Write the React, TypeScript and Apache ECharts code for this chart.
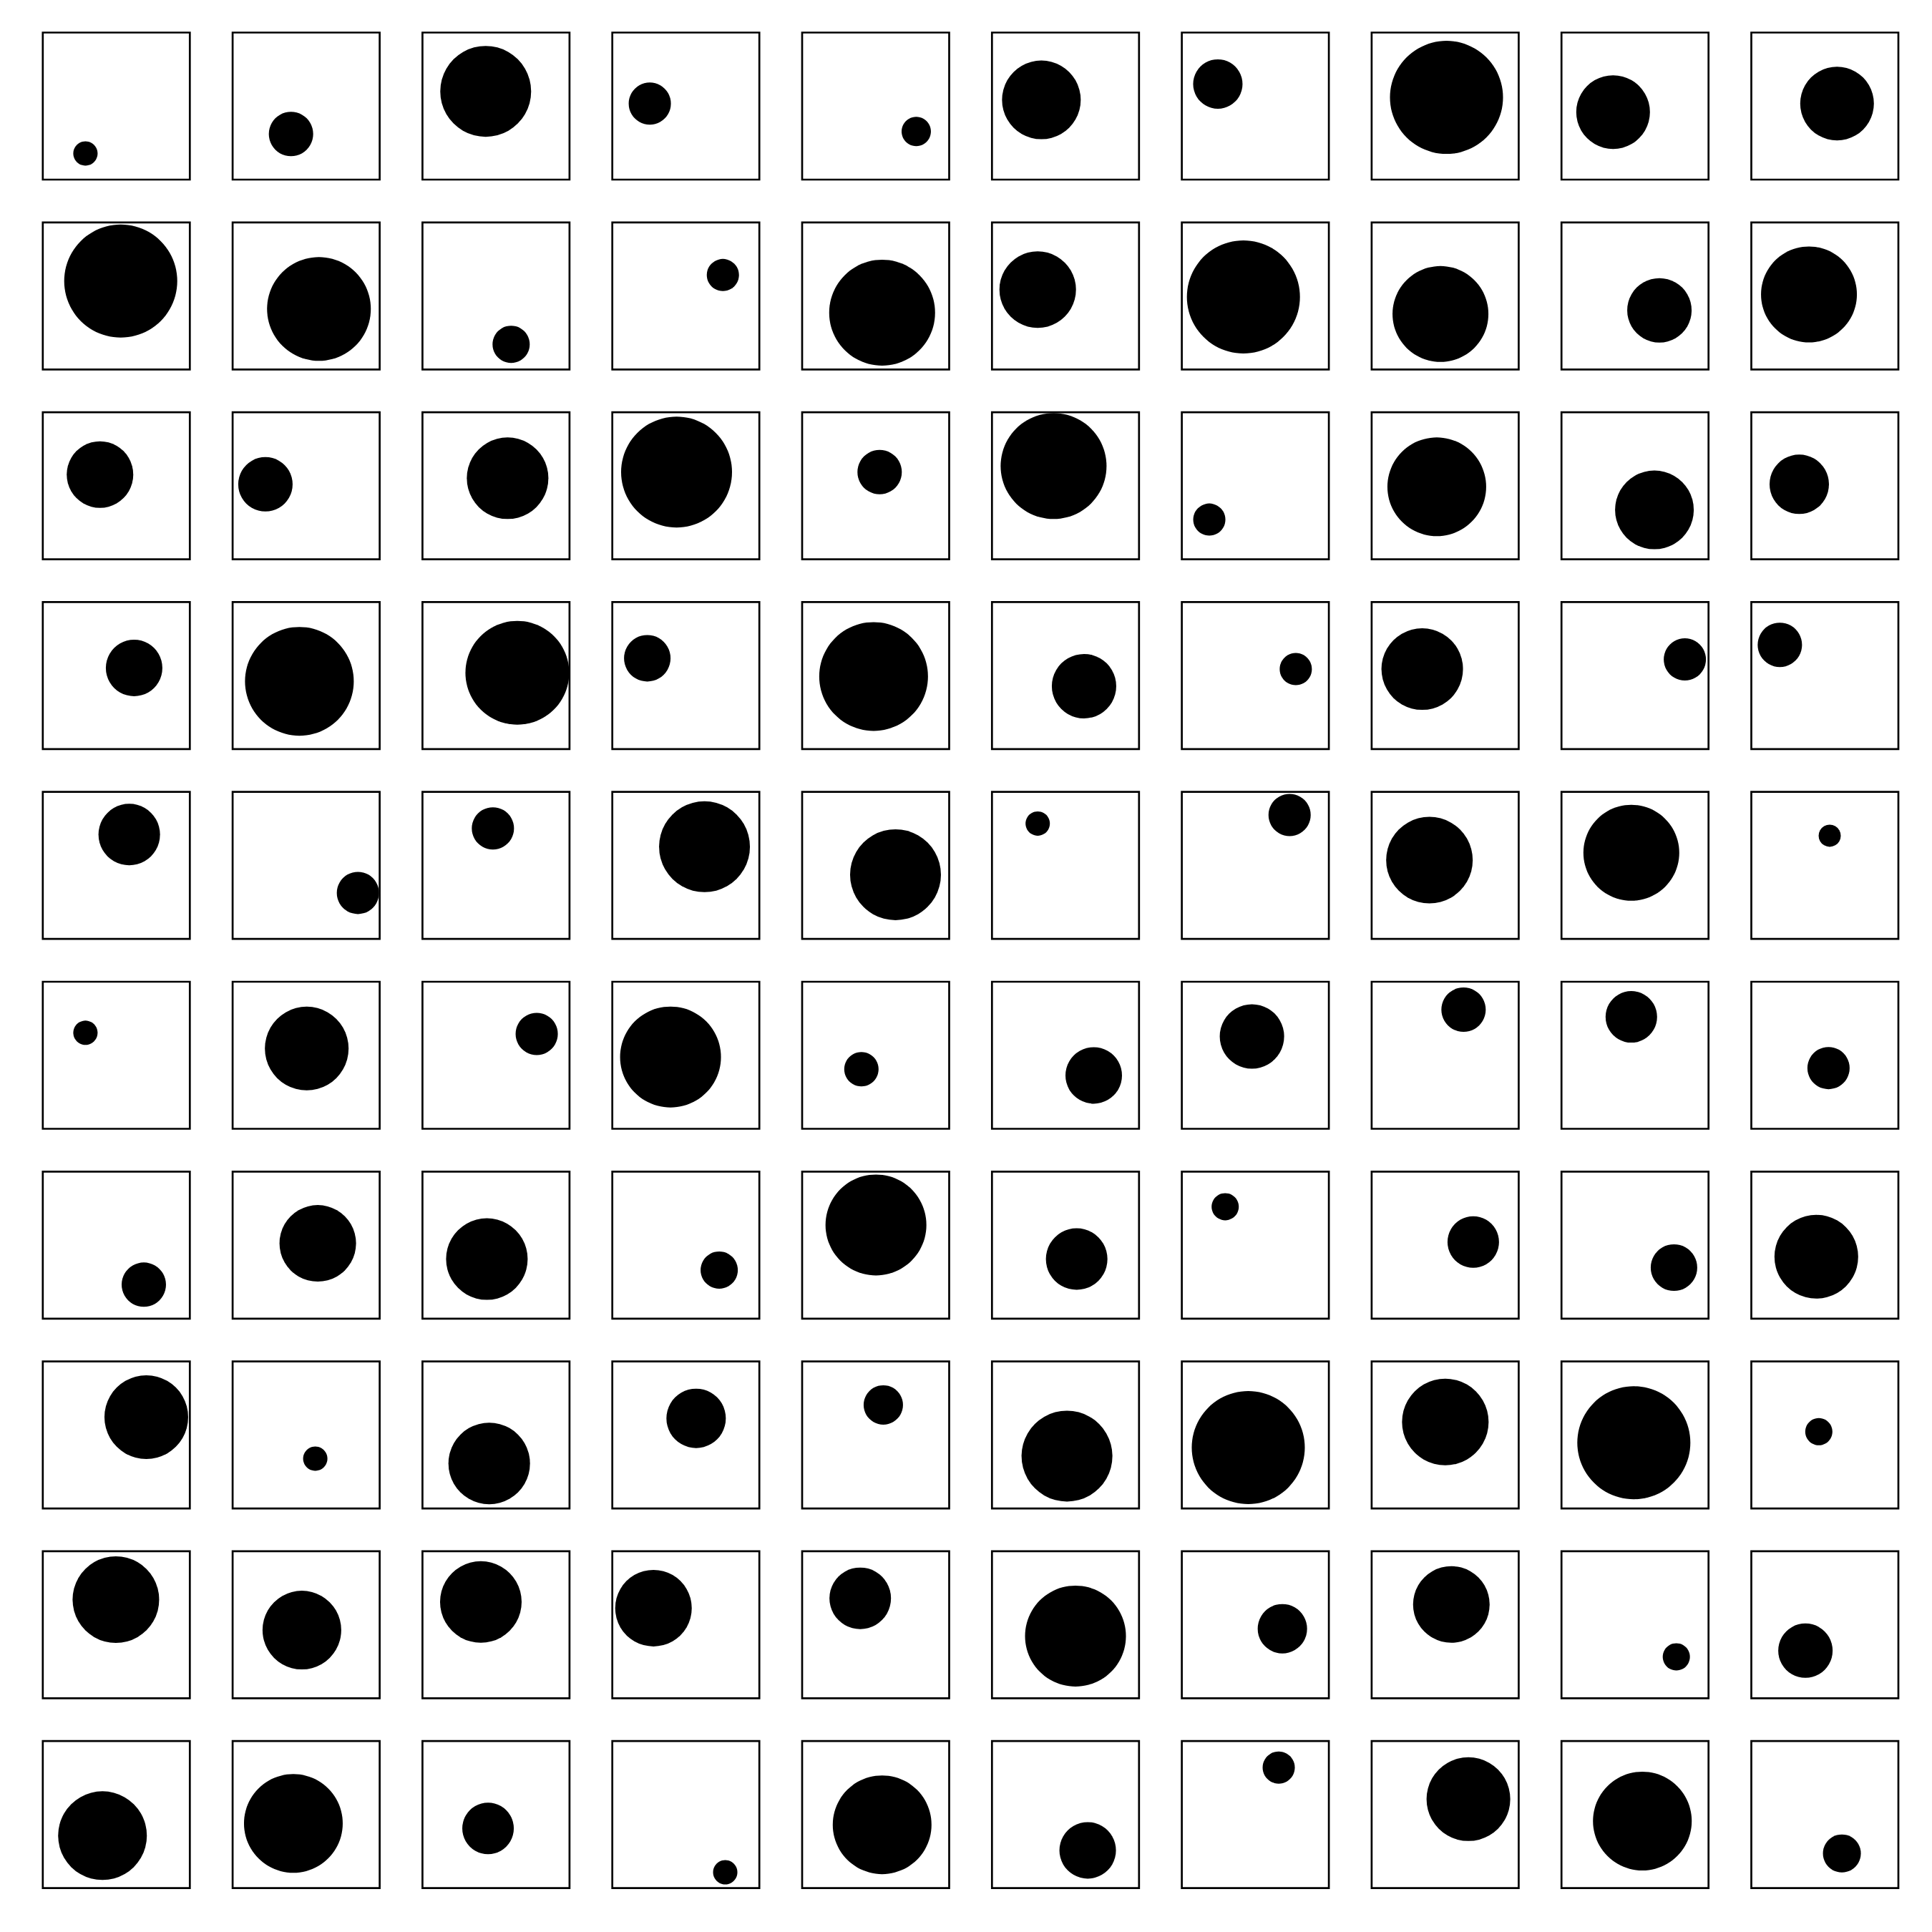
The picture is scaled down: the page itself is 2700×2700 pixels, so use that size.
import React, { useEffect, useRef } from "react";
import * as echarts from "echarts";

// Position of each dot inside its panel (0..1, x from left, y from bottom), row by row
const xValues: number[] = [
  0.29, 0.397, 0.43, 0.255, 0.776, 0.336, 0.245, 0.509, 0.351, 0.583,
  0.53, 0.587, 0.603, 0.752, 0.544, 0.311, 0.419, 0.468, 0.666, 0.392,
  0.389, 0.223, 0.579, 0.437, 0.527, 0.419, 0.187, 0.443, 0.632, 0.326,
  0.621, 0.454, 0.645, 0.238, 0.486, 0.626, 0.775, 0.344, 0.839, 0.194,
  0.588, 0.852, 0.479, 0.627, 0.635, 0.311, 0.733, 0.393, 0.475, 0.533,
  0.29, 0.504, 0.777, 0.396, 0.403, 0.692, 0.477, 0.625, 0.475, 0.525,
  0.687, 0.579, 0.438, 0.727, 0.502, 0.576, 0.295, 0.691, 0.765, 0.442,
  0.704, 0.562, 0.454, 0.57, 0.552, 0.51, 0.452, 0.501, 0.492, 0.459,
  0.497, 0.471, 0.397, 0.28, 0.395, 0.568, 0.684, 0.542, 0.781, 0.368,
  0.406, 0.413, 0.446, 0.768, 0.544, 0.651, 0.659, 0.658, 0.55, 0.616,
];
const yValues: number[] = [
  0.178, 0.31, 0.6, 0.517, 0.327, 0.542, 0.65, 0.559, 0.459, 0.517,
  0.601, 0.411, 0.171, 0.642, 0.386, 0.543, 0.493, 0.377, 0.402, 0.51,
  0.576, 0.51, 0.551, 0.593, 0.593, 0.634, 0.27, 0.493, 0.336, 0.51,
  0.552, 0.461, 0.519, 0.618, 0.494, 0.428, 0.544, 0.544, 0.61, 0.709,
  0.71, 0.313, 0.752, 0.627, 0.437, 0.785, 0.843, 0.536, 0.586, 0.702,
  0.653, 0.546, 0.645, 0.488, 0.405, 0.363, 0.628, 0.81, 0.761, 0.413,
  0.231, 0.512, 0.405, 0.33, 0.637, 0.405, 0.761, 0.521, 0.347, 0.421,
  0.621, 0.339, 0.306, 0.613, 0.704, 0.356, 0.414, 0.588, 0.447, 0.522,
  0.671, 0.464, 0.655, 0.613, 0.68, 0.423, 0.473, 0.638, 0.282, 0.324,
  0.357, 0.44, 0.406, 0.108, 0.431, 0.257, 0.82, 0.605, 0.456, 0.236,
];
// Dot magnitude (rendered as diameter)
const magnitudes: number[] = [
  34, 62, 127, 59, 41, 110, 69, 158, 103, 103,
  158, 145, 52, 45, 148, 107, 158, 134, 90, 134,
  93, 76, 114, 155, 62, 148, 45, 138, 110, 83,
  79, 152, 145, 65, 152, 90, 45, 114, 59, 62,
  86, 59, 59, 127, 127, 34, 59, 121, 134, 31,
  34, 117, 59, 141, 48, 79, 90, 62, 72, 59,
  62, 107, 114, 52, 141, 86, 38, 72, 65, 117,
  117, 34, 114, 83, 55, 127, 158, 121, 158, 38,
  121, 110, 114, 107, 86, 141, 69, 107, 38, 76,
  124, 138, 72, 34, 138, 79, 45, 117, 138, 53,
];

const ROWS = 10;
const COLS = 10;

export default function App() {
  const ref = useRef<HTMLDivElement>(null);
  useEffect(() => {
    document.body.style.margin = "0";
    if (!ref.current) return;
    const chart = echarts.init(ref.current, undefined, { renderer: "svg" });
    const pitch = 265.3;
    const grids: any[] = [];
    const xAxes: any[] = [];
    const yAxes: any[] = [];
    const series: any[] = [];
    for (let r = 0; r < ROWS; r++) {
      for (let c = 0; c < COLS; c++) {
        const i = r * COLS + c;
        grids.push({
          left: 59.8 + pitch * c,
          top: 45.5 + pitch * r,
          width: 205.5,
          height: 205.5,
          show: true,
          borderColor: "#000",
          borderWidth: 2.7,
          backgroundColor: "transparent",
        });
        xAxes.push({ type: "value", min: 0, max: 1, show: false, gridIndex: i });
        yAxes.push({ type: "value", min: 0, max: 1, show: false, gridIndex: i });
        series.push({
          type: "scatter",
          xAxisIndex: i,
          yAxisIndex: i,
          clip: false,
          symbol: "circle",
          symbolSize: (v: number[]) => v[2],
          itemStyle: { color: "#000", opacity: 1 },
          silent: true,
          data: [[xValues[i], yValues[i], magnitudes[i]]],
        });
      }
    }
    chart.setOption({
      animation: false,
      backgroundColor: "#fff",
      grid: grids,
      xAxis: xAxes,
      yAxis: yAxes,
      series,
    });
    return () => chart.dispose();
  }, []);
  return <div ref={ref} style={{ width: 2700, height: 2700 }} />;
}
